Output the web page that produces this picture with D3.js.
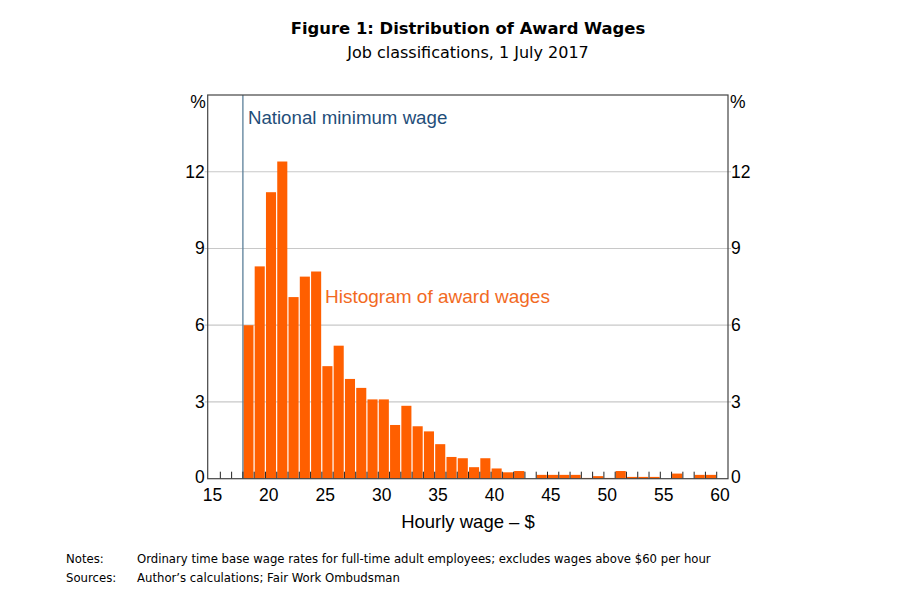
<!DOCTYPE html>
<html>
<head>
<meta charset="utf-8">
<script src="https://cdn.jsdelivr.net/npm/d3@7"></script>
<style>
  body { margin: 0; background: #fff; }
  svg { display: block; }
</style>
</head>
<body>
<div id="chart"></div>
<script>
// bins are $1 wide, starting at the national minimum wage
const binStarts = [17.7, 18.7, 19.7, 20.7, 21.7, 22.7, 23.7, 24.7, 25.7, 26.7,
  27.7, 28.7, 29.7, 30.7, 31.7, 32.7, 33.7, 34.7, 35.7, 36.7,
  37.7, 38.7, 39.7, 40.7, 41.7, 42.7, 43.7, 44.7, 45.7, 46.7,
  47.7, 48.7, 49.7, 50.7, 51.7, 52.7, 53.7, 54.7, 55.7, 56.7,
  57.7, 58.7];
const shares = [6.0, 8.3, 11.2, 12.4, 7.1, 7.9, 8.1, 4.4, 5.2, 3.9,
  3.55, 3.1, 3.1, 2.1, 2.85, 2.05, 1.85, 1.35, 0.85, 0.8,
  0.45, 0.8, 0.4, 0.25, 0.3, 0, 0.15, 0.15, 0.15, 0.15,
  0.03, 0.1, 0.03, 0.3, 0.07, 0.07, 0.07, 0, 0.2, 0,
  0.15, 0.15];
const xTickLabels = [15, 20, 25, 30, 35, 40, 45, 50, 55, 60];
const yTickLabels = [0, 3, 6, 9, 12];
const minimumWage = 17.7;

const W = 908, H = 599;
const plot = { left: 207.7, right: 728, top: 95, bottom: 478.7 };
const font = "'Liberation Sans', Arial, sans-serif";
const verd = "'DejaVu Sans', Verdana, sans-serif";
const orange = "#ff5f00";

const svg = d3.select('#chart').append('svg')
  .attr('width', W).attr('height', H);

const x = d3.scaleLinear().domain([14.58, 60.7]).range([plot.left, plot.right]);
const y = d3.scaleLinear().domain([0, 15]).range([plot.bottom, plot.top]);

// titles
svg.append('text').attr('x', 468).attr('y', 34).attr('text-anchor', 'middle')
  .style('font-family', verd).style('font-size', '16.4px').style('font-weight', 'bold')
  .text('Figure 1: Distribution of Award Wages');
svg.append('text').attr('x', 468).attr('y', 58).attr('text-anchor', 'middle')
  .style('font-family', verd).style('font-size', '16px')
  .text('Job classifications, 1 July 2017');

// gridlines
svg.append('g').selectAll('line')
  .data(yTickLabels.filter(d => d > 0))
  .enter().append('line')
  .attr('x1', plot.left - 3).attr('x2', plot.right + 3)
  .attr('y1', d => y(d)).attr('y2', d => y(d))
  .attr('stroke', '#c8c8c8').attr('stroke-width', 1.2);

// bars
svg.append('g').selectAll('rect')
  .data(binStarts.map((b, i) => ({ start: b, value: shares[i] })))
  .enter().append('rect')
  .attr('x', d => x(d.start) + 0.5)
  .attr('width', d => x(d.start + 1) - x(d.start) - 1.2)
  .attr('y', d => y(d.value))
  .attr('height', d => y(0) - y(d.value))
  .attr('fill', orange);

// minimum wage line
svg.append('line')
  .attr('x1', x(minimumWage)).attr('x2', x(minimumWage))
  .attr('y1', plot.top).attr('y2', plot.bottom)
  .attr('stroke', '#5b7f99').attr('stroke-width', 1.3);

// minor ticks at bin edges, drawn inside
const minor = d3.range(15.7, 60, 1);
svg.append('g').selectAll('line')
  .data(minor)
  .enter().append('line')
  .attr('x1', d => x(d)).attr('x2', d => x(d))
  .attr('y1', plot.bottom).attr('y2', plot.bottom - 7)
  .attr('stroke', '#222').attr('stroke-width', 1);

// frame
svg.append('rect')
  .attr('x', plot.left).attr('y', plot.top)
  .attr('width', plot.right - plot.left).attr('height', plot.bottom - plot.top)
  .attr('fill', 'none').attr('stroke', '#444').attr('stroke-width', 1.2);

// y labels both sides
const yl = svg.append('g').style('font-family', font).style('font-size', '17.5px');
yl.selectAll('.yl').data(yTickLabels).enter().append('text')
  .attr('x', plot.left - 3).attr('y', d => y(d) + 6 - (d === 0 ? 2 : 0))
  .attr('text-anchor', 'end').text(d => d);
yl.selectAll('.yr').data(yTickLabels).enter().append('text')
  .attr('x', plot.right + 3).attr('y', d => y(d) + 6 - (d === 0 ? 2 : 0))
  .attr('text-anchor', 'start').text(d => d);
yl.append('text').attr('x', plot.left - 2).attr('y', 108).attr('text-anchor', 'end').text('%');
yl.append('text').attr('x', plot.right + 2).attr('y', 108).attr('text-anchor', 'start').text('%');

// x labels
svg.append('g').selectAll('text')
  .data(xTickLabels)
  .enter().append('text')
  .attr('x', d => x(d)).attr('y', 501)
  .attr('text-anchor', 'middle')
  .style('font-family', font).style('font-size', '17.5px')
  .text(d => d);
svg.append('text').attr('x', 468).attr('y', 528).attr('text-anchor', 'middle')
  .style('font-family', font).style('font-size', '18.5px')
  .text('Hourly wage \u2013 $');

// annotations
svg.append('text').attr('x', x(minimumWage) + 5).attr('y', 124)
  .style('font-family', font).style('font-size', '18.7px').attr('fill', '#1f4e79')
  .text('National minimum wage');
svg.append('text').attr('x', 325).attr('y', 303)
  .style('font-family', font).style('font-size', '19px').attr('fill', '#f26a1f')
  .text('Histogram of award wages');

// notes
const notes = svg.append('g').style('font-family', verd).style('font-size', '11.7px');
notes.append('text').attr('x', 66).attr('y', 563).text('Notes:');
notes.append('text').attr('x', 137).attr('y', 563)
  .text('Ordinary time base wage rates for full-time adult employees; excludes wages above $60 per hour');
notes.append('text').attr('x', 66).attr('y', 582).text('Sources:');
notes.append('text').attr('x', 137).attr('y', 582)
  .text('Author\u2019s calculations; Fair Work Ombudsman');
</script>
</body>
</html>
